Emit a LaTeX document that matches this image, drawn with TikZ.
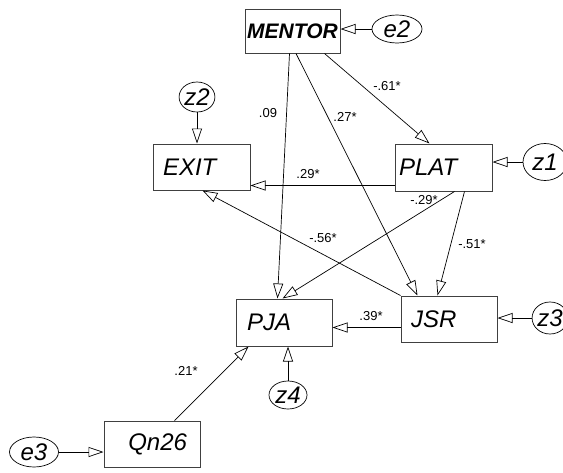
\documentclass[tikz,border=0pt]{standalone}
\usepackage{fontspec}
\setmainfont{Liberation Sans}
\usetikzlibrary{arrows.meta,calc,shapes.geometric}
\begin{document}
\begin{tikzpicture}[x=1pt,y=-1pt,
  box/.style={draw=black!75, line width=1pt, rectangle, minimum height=46pt, inner ysep=0pt,
    align=left, font=\fontsize{24}{26}\selectfont\itshape},
  err/.style={draw, ellipse, line width=0.7pt, inner sep=0pt, font=\fontsize{24}{26}\selectfont\itshape},
  lab/.style={font=\fontsize{13}{15}\selectfont, inner sep=0pt},
  path/.style={draw, line width=0.7pt, -{Triangle[open, length=15pt, width=10pt]}}
]
\useasboundingbox (0,0) rectangle (563,472);
% observed variables
\node[box, minimum width=95pt, minimum height=44pt, align=center, inner xsep=1pt,
  font=\fontsize{21}{24}\selectfont\bfseries\itshape] (MENTOR) at (292.5,31) {MENTOR};
\node[box, text width=77pt, inner xsep=10pt] (EXIT) at (201.5,167) {EXIT};
\node[box, text width=89pt, inner xsep=4pt, minimum height=47pt] (PLAT) at (443.5,167.5) {PLAT};
\node[box, text width=74pt, inner xsep=11pt, minimum height=47pt] (PJA) at (284,322.5) {PJA};
\node[box, text width=76pt, inner xsep=10pt] (JSR) at (449,319) {JSR};
\node[box, text width=70pt, inner xsep=13pt, align=right] (Qn26) at (152,444) {Qn26};
% error terms
\node[err, minimum width=50pt, minimum height=28pt] (e2) at (397,29) {e2};
\node[err, minimum width=49pt, minimum height=30pt] (e3) at (34,452) {e3};
\node[err, minimum width=44pt, minimum height=37pt] (z1) at (545,162) {z1};
\node[err, minimum width=34pt, minimum height=30pt] (z2) at (197,97) {z2};
\node[err, minimum width=32pt, minimum height=32pt] (z3) at (550,318) {z3};
\node[err, minimum width=38pt, minimum height=28pt] (z4) at (288,395) {z4};
% error paths
\path[path] (e2.west) -- (e2.west -| MENTOR.east);
\path[path] (z2.south) -- (z2.south |- EXIT.north);
\path[path] (z1.west) -- (z1.west -| PLAT.east);
\path[path] (z3.west) -- (z3.west -| JSR.east);
\path[path] (z4.north) -- (z4.north |- PJA.south);
\path[path] (e3.east) -- (e3.east -| Qn26.west);
% structural paths
\path[path] ($(MENTOR.south)+(-3,0)$) -- ($(PJA.north west)+(42,0)$);
\path[path] ($(MENTOR.south)+(3.5,0)$) -- ($(JSR.north west)+(17,0)$);
\path[path] ($(MENTOR.south east)+(-16,0)$) -- ($(PLAT.north west)+(35,0)$);
\coordinate (pe) at ($(PLAT.south west)+(0,-6)$);
\path[path] (pe) -- (pe -| EXIT.east);
\path[path] ($(PLAT.south west)+(60,0)$) -- ($(PJA.north west)+(47,0)$);
\path[path] ($(PLAT.south west)+(70,0)$) -- ($(JSR.north west)+(37,0)$);
\path[path] (JSR.north west) -- ($(EXIT.south west)+(50,0)$);
\coordinate (jp) at ($(JSR.south west)+(0,-15)$);
\path[path] (jp) -- (jp -| PJA.east);
\path[path] ($(Qn26.north west)+(71,0)$) -- ($(PJA.south west)+(13,0)$);
% coefficients
\node[lab] (l1) at (268,113) {.09};
\node[lab] (l2) at (345,117) {.27*};
\node[lab] (l3) at (387,86) {-.61*};
\node[lab] (l4) at (308,174) {.29*};
\node[lab] (l5) at (424,200) {-.29*};
\node[lab] (l6) at (472,244) {-.51*};
\node[lab] (l7) at (323,238) {-.56*};
\node[lab] (l8) at (371,316) {.39*};
\node[lab] (l9) at (186,371) {.21*};
\end{tikzpicture}
\end{document}
